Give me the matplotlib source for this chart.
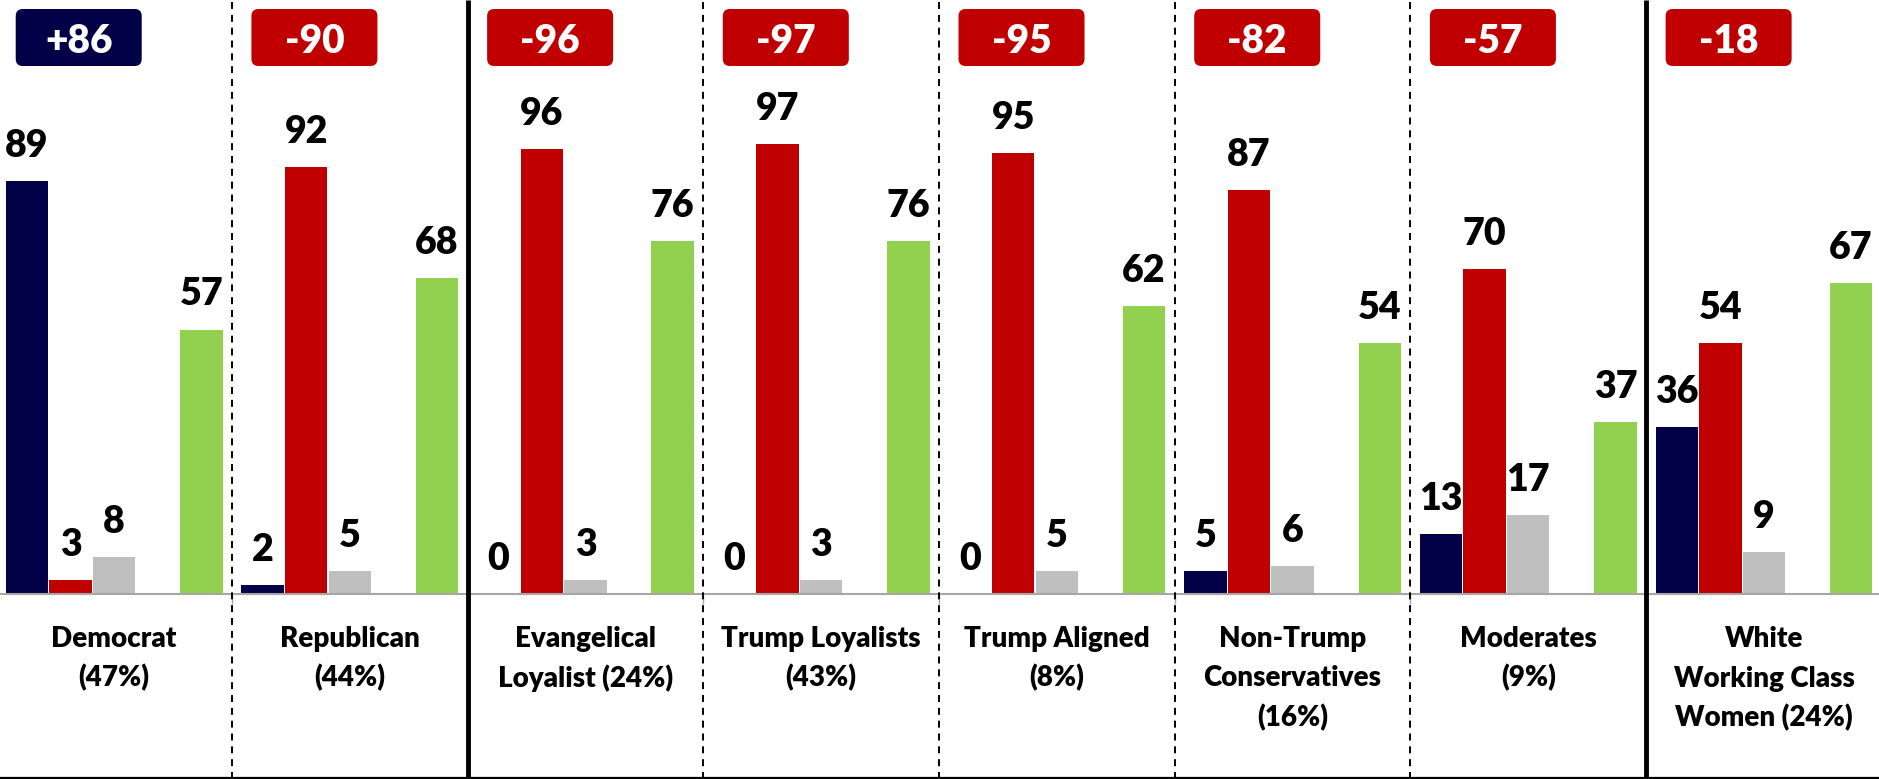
import matplotlib
matplotlib.use("Agg")
import matplotlib.pyplot as plt
from matplotlib.patches import FancyBboxPatch
from matplotlib.lines import Line2D
from matplotlib.transforms import blended_transform_factory
import numpy as np

plt.rcParams['font.family'] = ['Lato', 'DejaVu Sans']

# ---------------- data ----------------
categories = ["Democrat\n(47%)", "Republican\n(44%)", "Evangelical\nLoyalist (24%)",
              "Trump Loyalists\n(43%)", "Trump Aligned\n(8%)",
              "Non-Trump\nConservatives\n(16%)", "Moderates\n(9%)",
              "White\nWorking Class\nWomen (24%)"]
navy_vals = [89, 2, 0, 0, 0, 5, 13, 36]
red_vals = [3, 92, 96, 97, 95, 87, 70, 54]
gray_vals = [8, 5, 3, 3, 5, 6, 17, 9]
green_vals = [57, 68, 76, 76, 62, 54, 37, 67]
net_labels = ["+86", "-90", "-96", "-97", "-95", "-82", "-57", "-18"]
solid_after = [1, 6]

# ---------------- style ----------------
NAVY = "#020046"
RED = "#C00000"
GRAY = "#BFBFBF"
GREEN = "#92D050"
WEIGHT = 'heavy'

W, H = 1879, 779
fig = plt.figure(figsize=(W / 100, H / 100), dpi=100)
base_px = 594
px_per_unit = 4.64
ax = fig.add_axes([0, 1 - base_px / H, 1, base_px / H])
ax.set_ylim(0, base_px / px_per_unit)
ax.set_xlim(-0.484, 7.488)

x = np.arange(len(categories))
pitch = 0.185
bw = 0.18
series = [(navy_vals, NAVY, -2), (red_vals, RED, -1), (gray_vals, GRAY, 0), (green_vals, GREEN, 2)]
for vals, col, k in series:
    bars = ax.bar(x + k * pitch, vals, width=bw, color=col, edgecolor='none', zorder=2)
    for b, v in zip(bars, vals):
        ax.annotate(str(v), (b.get_x() + b.get_width() / 2, v), xytext=(0, 17.3),
                    textcoords='offset points', ha='center', va='baseline',
                    fontsize=27, fontweight=WEIGHT, color='black', annotation_clip=False)

# axes styling
for s in ['top', 'right', 'left']:
    ax.spines[s].set_visible(False)
ax.spines['bottom'].set_color('#A6A6A6')
ax.spines['bottom'].set_linewidth(1.5)
ax.set_yticks([])
ax.set_xticks(np.arange(0.5, 7, 1))
ax.set_xticklabels([])
ax.tick_params(axis='x', length=7, width=1, color='#A6A6A6', direction='out')

# separators spanning full figure height
trans = blended_transform_factory(ax.transData, fig.transFigure)
for i in range(len(categories) - 1):
    xs = i + 0.5
    if i in solid_after:
        ax.plot([xs, xs], [0, 1], transform=trans, color='black', lw=3.5,
                clip_on=False, zorder=5, solid_capstyle='butt')
    else:
        ax.plot([xs, xs], [0, 1], transform=trans, color='black', lw=1.4,
                ls=(0, (3.6, 3.0)), clip_on=False, zorder=5)

# bottom border
fig.add_artist(Line2D([0, 1], [1.2 / H, 1.2 / H], transform=fig.transFigure,
                      color='black', lw=1.6))

# net badges
ma = 235.7 / px_per_unit
box_w = 0.5346
box_y0 = (base_px - 66) / px_per_unit
box_h = (66 - 9) / px_per_unit
for i, lab in enumerate(net_labels):
    col = NAVY if lab.startswith('+') else RED
    cx = i - 0.15
    patch = FancyBboxPatch((cx - box_w / 2, box_y0), box_w, box_h,
                           boxstyle="round,pad=0,rounding_size=0.03",
                           mutation_aspect=ma, fc=col, ec='none', clip_on=False, zorder=3)
    ax.add_patch(patch)
    ax.text(cx, (base_px - 53) / px_per_unit, lab, ha='center', va='baseline',
            color='white', fontsize=28, fontweight=WEIGHT, zorder=4)

# category labels
for i, cat in enumerate(categories):
    for j, line in enumerate(cat.split('\n')):
        ypx = 647 + 39.5 * j
        ax.text(i, 1 - ypx / H, line, transform=trans, ha='center', va='baseline',
                fontsize=20, fontweight=WEIGHT, color='black')

fig.savefig("out.png", dpi=100, facecolor='white')
